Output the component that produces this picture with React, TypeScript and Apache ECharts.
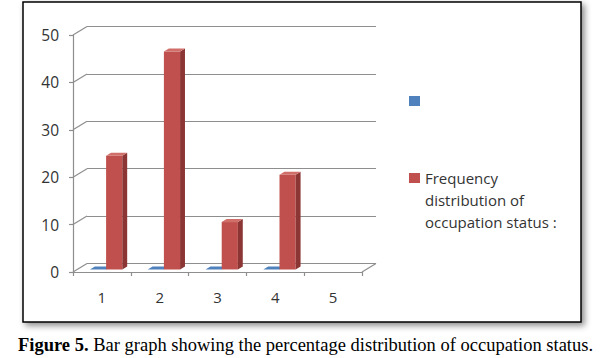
import React, { useEffect, useRef } from "react";
import * as echarts from "echarts";

const categories = ["1", "2", "3", "4", "5"];
const blueValues: (number | null)[] = [0, 0, 0, 0, null];
const redValues: (number | null)[] = [24, 46, 10, 20, null];
const yTicks = [0, 10, 20, 30, 40, 50];
const BLUE_NAME = " ";
const RED_NAME = "Frequency\ndistribution of\noccupation status :";
const CAPTION_BOLD = "Figure 5.";
const CAPTION_TEXT = " Bar graph showing the percentage distribution of occupation status.";

const DX = 14;
const DY = -8.5;
const D0 = 0.3;
const D1 = 0.65;
const FONT = "'Open Sans', 'Noto Sans', sans-serif";

function cuboidRenderer(offsetFrac: number, front: string, side: string, topC: string) {
  return (params: any, api: any) => {
    const idx = api.value(0);
    const v = api.value(1);
    const base = api.coord([idx, 0]);
    const top = api.coord([idx, v]);
    const bw = api.size([1, 0])[0];
    const w = bw * 0.28;
    const x0 = base[0] + offsetFrac * bw;
    const s0x = D0 * DX, s0y = D0 * DY, s1x = D1 * DX, s1y = D1 * DY;
    const yt = top[1], yb = base[1];
    const children: any[] = [];
    if (yb - yt > 0.5) {
      children.push({
        type: "polygon",
        shape: { points: [[x0 + s0x, yt + s0y], [x0 + w + s0x, yt + s0y], [x0 + w + s0x, yb + s0y], [x0 + s0x, yb + s0y]] },
        style: { fill: front },
      });
      children.push({
        type: "polygon",
        shape: { points: [[x0 + w + s0x, yt + s0y], [x0 + w + s1x, yt + s1y], [x0 + w + s1x, yb + s1y], [x0 + w + s0x, yb + s0y]] },
        style: { fill: side },
      });
    }
    children.push({
      type: "polygon",
      shape: { points: [[x0 + s0x, yt + s0y], [x0 + s1x, yt + s1y], [x0 + w + s1x, yt + s1y], [x0 + w + s0x, yt + s0y]] },
      style: { fill: topC },
    });
    return { type: "group", children };
  };
}

export default function App() {
  const ref = useRef<HTMLDivElement>(null);
  useEffect(() => {
    if (!ref.current) return;
    const chart = echarts.init(ref.current, null, { renderer: "svg" });
    const gridColor = "#8e8e8e";
    const legendText = { fontFamily: FONT, fontSize: 15, lineHeight: 22, color: "#333" };
    const option: any = {
      animation: false,
      backgroundColor: "#fff",
      graphic: [
        {
          type: "rect",
          z: -10,
          shape: { x: 23, y: 2, width: 558, height: 320 },
          style: {
            fill: "#fff",
            stroke: "#000",
            lineWidth: 1.5,
            shadowBlur: 6,
            shadowOffsetX: 3,
            shadowOffsetY: 3,
            shadowColor: "rgba(0,0,0,0.45)",
          },
        },
        {
          type: "text",
          x: 18,
          y: 345,
          style: {
            text: "{b|" + CAPTION_BOLD + "}{n|" + CAPTION_TEXT + "}",
            verticalAlign: "middle",
            rich: {
              b: { fontFamily: "'Liberation Serif', serif", fontSize: 18.5, fontWeight: "bold", fill: "#000" },
              n: { fontFamily: "'Liberation Serif', serif", fontSize: 18.5, fill: "#000" },
            },
          },
        },
      ],
      legend: [
        {
          data: [BLUE_NAME],
          orient: "vertical",
          left: 409,
          top: 90,
          padding: 0,
          itemWidth: 11,
          itemHeight: 10,
          icon: "rect",
          selectedMode: false,
          textStyle: legendText,
        },
        {
          data: [RED_NAME],
          orient: "vertical",
          left: 409,
          top: 123,
          padding: 0,
          itemWidth: 11,
          itemHeight: 10,
          icon: "rect",
          selectedMode: false,
          formatter: (name: string) => "\n\n" + name,
          textStyle: legendText,
        },
      ],
      grid: [
        { left: 73, right: 238, top: 35, bottom: 86 },
        { left: 87, right: 224, top: 26.5, bottom: 94.5 },
      ],
      xAxis: [
        {
          type: "category",
          gridIndex: 0,
          data: categories,
          axisLine: { show: true, lineStyle: { color: gridColor, width: 1.2 } },
          axisTick: { show: true, length: 4, lineStyle: { color: gridColor, width: 1.2 } },
          axisLabel: { margin: 17, fontFamily: FONT, fontSize: 15, color: "#333" },
        },
        { type: "category", gridIndex: 1, data: categories, show: false },
      ],
      yAxis: [
        {
          type: "value",
          gridIndex: 0,
          min: 0,
          max: 50,
          interval: 10,
          axisLine: { show: true, lineStyle: { color: gridColor, width: 1.2 } },
          axisTick: { show: true, length: 4, lineStyle: { color: gridColor, width: 1.2 } },
          splitLine: { show: false },
          axisLabel: { margin: 14, fontFamily: FONT, fontSize: 15.5, color: "#333" },
        },
        {
          type: "value",
          gridIndex: 1,
          min: 0,
          max: 50,
          interval: 10,
          axisLine: { show: false },
          axisTick: { show: false },
          axisLabel: { show: false },
          splitLine: { show: true, lineStyle: { color: gridColor, width: 1.2 } },
        },
      ],
      series: [
        {
          type: "custom",
          name: "walls",
          xAxisIndex: 0,
          yAxisIndex: 0,
          silent: true,
          z: 1,
          data: yTicks.map((v) => [0, v]),
          renderItem: (params: any, api: any) => {
            const v = api.value(1);
            const p = api.coord([0, v]);
            const bw = api.size([1, 0])[0];
            const xL = p[0] - bw / 2;
            const children: any[] = [
              { type: "line", shape: { x1: xL, y1: p[1], x2: xL + DX, y2: p[1] + DY }, style: { stroke: gridColor, lineWidth: 1.2 } },
            ];
            if (v === 0) {
              const xR = api.coord([categories.length - 1, 0])[0] + bw / 2;
              children.push({ type: "line", shape: { x1: xR, y1: p[1], x2: xR + DX, y2: p[1] + DY }, style: { stroke: gridColor, lineWidth: 1.2 } });
            }
            return { type: "group", children };
          },
        },
        {
          type: "custom",
          name: BLUE_NAME,
          xAxisIndex: 0,
          yAxisIndex: 0,
          z: 3,
          itemStyle: { color: "#4F81BD" },
          data: blueValues.map((v, i) => (v == null ? null : [i, v])).filter((d) => d),
          renderItem: cuboidRenderer(-0.28, "#4F81BD", "#2f5a8c", "#4F81BD"),
        },
        {
          type: "custom",
          name: RED_NAME,
          xAxisIndex: 0,
          yAxisIndex: 0,
          z: 3,
          itemStyle: { color: "#C0504D" },
          data: redValues.map((v, i) => (v == null ? null : [i, v])).filter((d) => d),
          renderItem: cuboidRenderer(0, "#C0504D", "#8B3634", "#D06E6A"),
        },
      ],
    };
    chart.setOption(option);
    return () => chart.dispose();
  }, []);
  return <div ref={ref} style={{ position: "fixed", left: 0, top: 0, width: 600, height: 358 }} />;
}
